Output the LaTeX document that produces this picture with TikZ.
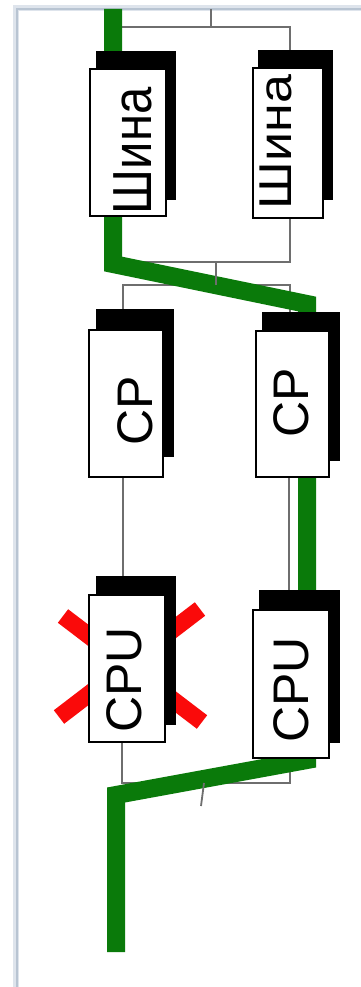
\documentclass[tikz,border=0pt]{standalone}
\usepackage{fontspec}
\setmainfont{Liberation Sans}
\usepackage{graphicx}
\definecolor{framecol}{RGB}{184,196,210}
\definecolor{framelite}{RGB}{222,228,236}
\definecolor{wirecol}{RGB}{110,110,110}
\definecolor{pathgreen}{RGB}{10,122,10}
\definecolor{failred}{RGB}{250,10,10}
\tikzset{
  wire/.style={draw=wirecol, line width=1.8pt},
  front/.style={draw=black, fill=white, line width=1.6pt, inner sep=0pt, outer sep=0pt, rectangle},
  shadowbox/.style={draw=none, fill=black, inner sep=0pt, outer sep=0pt, rectangle},
  lbl/.style={inner sep=0pt, outer sep=0pt, rotate=90, font=\fontsize{50}{50}\selectfont},
  greenpath/.style={draw=pathgreen, line width=18pt, line join=miter},
  redx/.style={draw=failred, line width=17pt}
}
\begin{document}
\begin{tikzpicture}[x=1pt,y=-1pt]
\useasboundingbox (0,0) rectangle (361,987);
\fill[white] (0,0) rectangle (361,987);
% frame
\draw[framelite, line width=6pt] (16,987) -- (16,8) -- (361,8);
\draw[framecol, line width=2.2pt] (17,987) -- (17,9) -- (361,9);

% shadow boxes and front boxes as named nodes
\path (136,125.5) node[minimum width=80pt, minimum height=149pt, inner sep=0pt, outer sep=0pt] (ShinaLs) {};
\path (295.5,125) node[minimum width=75pt, minimum height=150pt, inner sep=0pt, outer sep=0pt] (ShinaRs) {};
\path (135,383) node[minimum width=78pt, minimum height=148pt, inner sep=0pt, outer sep=0pt] (CPLs) {};
\path (301,386.5) node[minimum width=78pt, minimum height=149pt, inner sep=0pt, outer sep=0pt] (CPRs) {};
\path (136,650.5) node[minimum width=80pt, minimum height=149pt, inner sep=0pt, outer sep=0pt] (CPULs) {};
\path (299.5,666.5) node[minimum width=81pt, minimum height=153pt, inner sep=0pt, outer sep=0pt] (CPURs) {};
\path (128,142.5) node[minimum width=76pt, minimum height=147pt, inner sep=0pt, outer sep=0pt] (ShinaL) {};
\path (288,143) node[minimum width=70pt, minimum height=150pt, inner sep=0pt, outer sep=0pt] (ShinaR) {};
\path (126,403.5) node[minimum width=74pt, minimum height=147pt, inner sep=0pt, outer sep=0pt] (CPL) {};
\path (292.5,404) node[minimum width=73pt, minimum height=146pt, inner sep=0pt, outer sep=0pt] (CPR) {};
\path (127,668.5) node[minimum width=76pt, minimum height=147pt, inner sep=0pt, outer sep=0pt] (CPUL) {};
\path (291,684) node[minimum width=76pt, minimum height=148pt, inner sep=0pt, outer sep=0pt] (CPUR) {};

% junction coordinates
\coordinate (top) at (211,9);
\coordinate (b1) at (211,27);
\coordinate (b1L) at (120,27);
\coordinate (b1R) at (290,27);
\coordinate (b2L) at (120,262);
\coordinate (b2R) at (290,262);
\coordinate (b2M) at (216,262);
\coordinate (b3M) at (216,285);
\coordinate (b3L) at (123,285);
\coordinate (b3R) at (290,285);
\coordinate (vL) at (123,520);
\coordinate (vR) at (289,520);
\coordinate (b4L) at (122,783);
\coordinate (b4R) at (290,783);
\coordinate (b4M) at (204,783);
\coordinate (tail) at (201,806);

% thin wires
\draw[wire] (top) -- (b1);
\draw[wire] (b1L |- ShinaLs.north) -- (b1L) -- (b1R) -- (b1R |- ShinaRs.north);
\draw[wire] (b2L |- ShinaL.south) -- (b2L) -- (b2R) -- (b2R |- ShinaR.south);
\draw[wire] (b3L |- CPLs.north) -- (b3L) -- (b3R) -- (b3R |- CPRs.north);
\draw[wire] (vL |- CPL.south) -- (vL |- CPULs.north);
\draw[wire] (vR |- CPR.south) -- (vR |- CPURs.north);
\draw[wire] (b4L |- CPUL.south) -- (b4L) -- (b4R) -- (b4R |- CPUR.south);

% red cross behind failed CPU
\draw[redx] (63,616) -- (202,722);
\draw[redx] (59,717) -- (200,609);

% green working path
\coordinate (g1) at (113,9);
\coordinate (g2) at (113,264);
\coordinate (g3) at (307,304);
\coordinate (g4) at (307,760);
\coordinate (g5) at (116,795);
\coordinate (g6) at (116,952);
\draw[greenpath] (g1) -- (g2) -- (g3) -- (g4) -- (g5) -- (g6);

% stems over green
\draw[wire] (b2M) -- (b3M);
\draw[wire] (b4M) -- (tail);

% boxes
\foreach \n in {ShinaL,ShinaR,CPL,CPR,CPUL,CPUR}{
  \fill[black] (\n s.north west) rectangle (\n s.south east);
  \draw[front] (\n.north west) rectangle (\n.south east);
}

% labels
\node[lbl] (tShinaL) at (133,151) {\scalebox{0.98}[1.1]{Шина}};
\node[lbl] (tShinaR) at (276,142) {\scalebox{1.04}[0.92]{Шина}};
\node[lbl] (tCPL) at (135,411) {CP};
\node[lbl] (tCPR) at (291,403) {CP};
\node[lbl] (tCPUL) at (124,680) {CPU};
\node[lbl] (tCPUR) at (291,690) {CPU};
\end{tikzpicture}
\end{document}
